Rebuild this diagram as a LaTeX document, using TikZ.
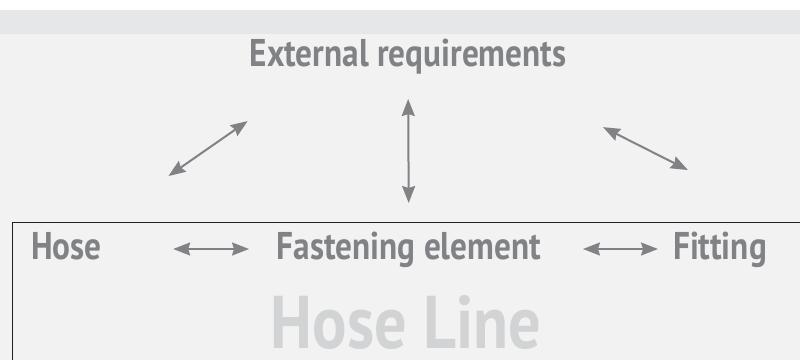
\documentclass[tikz,border=0pt]{standalone}
\usepackage{fontspec}
\newfontfamily\partfont{PT Sans}[FakeStretch=0.86]
\usetikzlibrary{arrows.meta}
\definecolor{partgray}{HTML}{808285}
\definecolor{linegray}{HTML}{D1D3D4}
\definecolor{bandgray}{HTML}{E6E7E8}
\definecolor{backgray}{HTML}{F2F2F2}
\definecolor{framecol}{HTML}{231F20}

\begin{document}
\begin{tikzpicture}[x=0.75pt,y=-0.75pt]

    \tikzstyle{part}+=[
        inner sep=0,
        anchor=base,
        text=partgray,
        font=\partfont\bfseries\fontsize{29}{29}\selectfont
    ]
    \tikzstyle{bigname}+=[
        inner sep=0,
        anchor=base,
        text=linegray,
        font=\partfont\bfseries\fontsize{56}{56}\selectfont
    ]
    \tikzstyle{arrow}+=[
        {Stealth[length=12.75pt,width=9.75pt,inset=1.5pt]}-{Stealth[length=12.75pt,width=9.75pt,inset=1.5pt]},
        line width = 1.5pt,
        draw=partgray
    ]
    \tikzstyle{frame}+=[
        draw=framecol,
        line width = 0.9pt
    ]

    % ----------------------------------------------------------------------------
    \useasboundingbox (0,0) rectangle (800,360);
    \clip (0,0) rectangle (800,360);
    \fill[white] (0,0) rectangle (800,10);
    \fill[bandgray] (0,10) rectangle (800,34);
    \fill[backgray] (0,34) rectangle (800,360);
    \draw[frame] (12.5,222.5) rectangle (820,380);

    % ----------------------------------------------------------------------------
    \node[part] (req) at (408,67) {External requirements};
    \node[part] (hose) at (66.5,259) {Hose};
    \node[part] (fasten) at (409,259) {Fastening element};
    \node[part] (fitting) at (720,259) {Fitting};
    \node[bigname] (hoseline) at (406,348) {Hose Line};

    % ----------------------------------------------------------------------------
    \draw[arrow,shorten <=24pt,shorten >=42pt] (req.base) -- (fasten.base);
    \draw[arrow,shorten <=71pt,shorten >=109pt] ([xshift=-62pt]req.base) -- ([xshift=-13pt]hose.base);
    \draw[arrow,shorten <=100pt,shorten >=148pt] ([xshift=57pt]req.base) -- ([xshift=108pt]fitting.base);

    % ----------------------------------------------------------------------------
    \draw[arrow,shorten <=80pt,shorten >=120pt] ([yshift=7.5pt]hose.base) -- ([yshift=7.5pt]fasten.base);
    \draw[arrow,shorten <=130.5pt,shorten >=46.5pt] ([yshift=7.5pt]fasten.base) -- ([yshift=7.5pt]fitting.base);

\end{tikzpicture}
\end{document}
